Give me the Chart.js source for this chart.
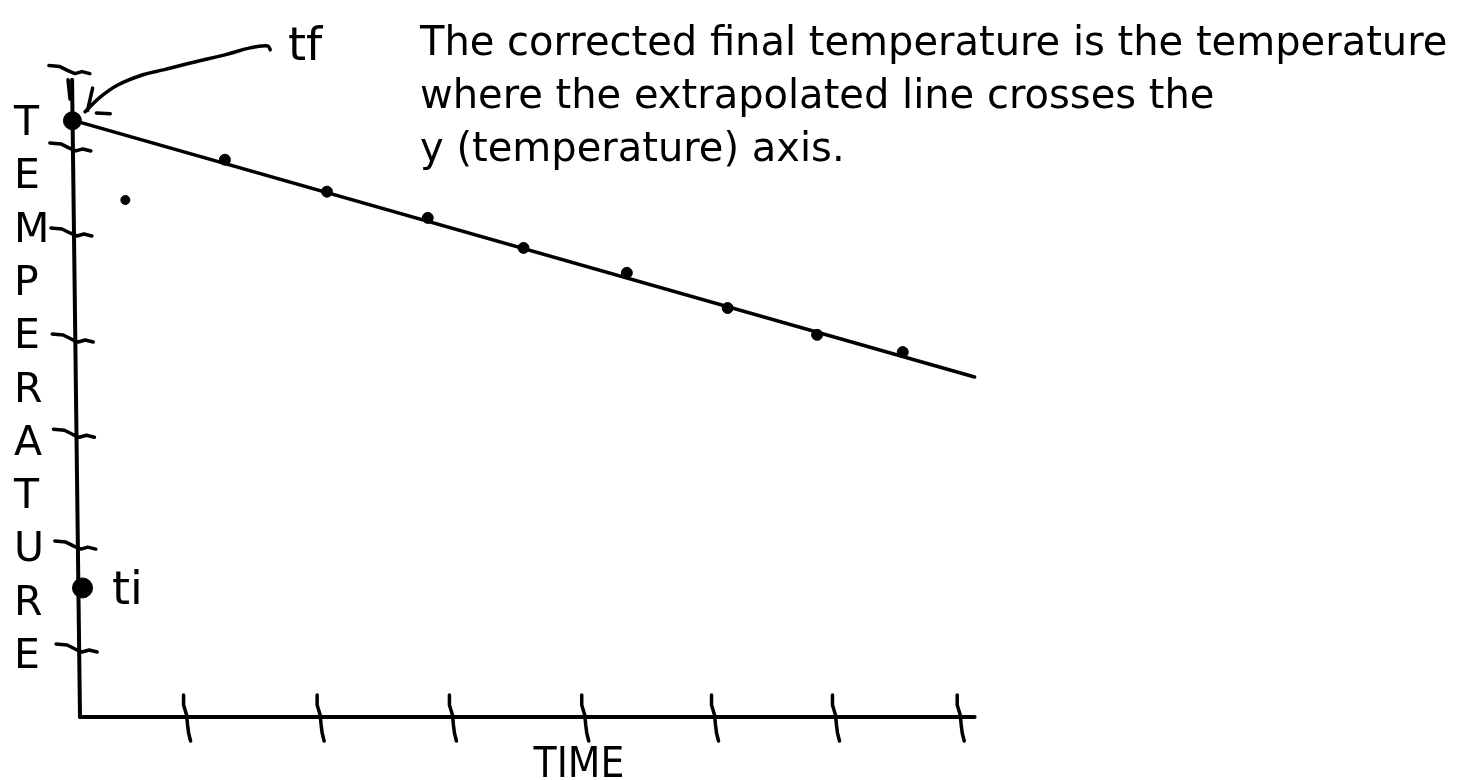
<!DOCTYPE html>
<html>
<head>
<meta charset="utf-8">
<script src="https://cdn.jsdelivr.net/npm/chart.js@4.4.1/dist/chart.umd.min.js"></script>
<style>
  html, body { margin: 0; padding: 0; background: #ffffff; }
  #wrap { width: 1476px; height: 780px; }
</style>
</head>
<body>
<div id="wrap"><canvas id="c" width="1476" height="780"></canvas></div>
<script>
// ---- data (time units, temperature units) ----
const timeTicks = [0.83, 1.89, 2.94, 3.99, 5.02, 5.98, 6.97];
const tempTicks = [101.3, 89.2, 75.9, 59.3, 44.4, 26.9, 10.8];
const measuredTime = [1.15, 1.96, 2.76, 3.52, 4.34, 5.14, 5.85, 6.53];
const measuredTemp = [87.2, 82.2, 78.1, 73.4, 69.5, 64.0, 59.8, 57.1];
const strayTime = [0.36];
const strayTemp = [80.9];
const fitTime = [-0.06, 7.10];
const fitTemp = [93.4, 53.2];
const tfPoint = { time: -0.06, temp: 93.3 };
const tiPoint = { time: 0.02, temp: 20.2 };
const yAxisTime = [-0.063, 0];
const yAxisTemp = [99.7, 0];
const xAxisTime = [0, 7.10];
const xAxisTemp = [0, 0];
const arrowTime = [0.04, 0.16, 0.30, 0.50, 0.67, 0.91, 1.15, 1.35, 1.49, 1.51];
const arrowTemp = [94.7, 97.0, 98.9, 100.5, 101.3, 102.5, 103.6, 104.7, 105.0, 104.4];
const arrowHead1Time = [0.10, 0.06];
const arrowHead1Temp = [98.4, 94.9];
const arrowHead2Time = [0.13, 0.24];
const arrowHead2Temp = [94.5, 94.4];
const topMarkTime = [-0.095, -0.079];
const topMarkTemp = [99.7, 96.7];
const annotationLines = [
  'The corrected final temperature is the temperature',
  'where the extrapolated line crosses the',
  'y (temperature) axis.'
];
const yLetters = ['T','E','M','P','E','R','A','T','U','R','E'];
const xTitle = 'TIME';
const tfLabel = 'tf';
const tiLabel = 'ti';

const pts = (xs, ys) => xs.map((x, i) => ({ x: x, y: ys[i] }));
const lineDS = (xs, ys, w, tension) => ({
  type: 'line', data: pts(xs, ys), borderColor: '#000', borderWidth: w,
  pointRadius: 0, tension: tension || 0, fill: false, clip: false,
  borderCapStyle: 'round', borderJoinStyle: 'round'
});

const sketchPlugin = {
  id: 'sketch',
  afterDatasetsDraw(chart) {
    const ctx = chart.ctx;
    const xs = chart.scales.x, ys = chart.scales.y;
    ctx.save();
    ctx.strokeStyle = '#000';
    ctx.lineWidth = 3.5;
    ctx.lineCap = 'round';
    ctx.lineJoin = 'round';
    // wiggly time ticks
    const xShape = [[-1,-22],[-1,-12],[2,-2],[3,8],[4,16],[6,24]];
    const y0 = ys.getPixelForValue(0);
    timeTicks.forEach(t => {
      const px = xs.getPixelForValue(t);
      ctx.beginPath();
      xShape.forEach((p, i) => { const X = px + p[0], Y = y0 + p[1]; i ? ctx.lineTo(X, Y) : ctx.moveTo(X, Y); });
      ctx.stroke();
    });
    // wiggly temperature ticks
    const yShape = [[-23,-4],[-12,-3],[-4,1],[3,4],[10,2],[18,4]];
    tempTicks.forEach(v => {
      const py = ys.getPixelForValue(v);
      const ax = xs.getPixelForValue(0) - (v / 100) * 8;
      ctx.beginPath();
      yShape.forEach((p, i) => { const X = ax + p[0], Y = py + p[1]; i ? ctx.lineTo(X, Y) : ctx.moveTo(X, Y); });
      ctx.stroke();
    });
    // texts
    ctx.fillStyle = '#000';
    ctx.textBaseline = 'alphabetic';
    ctx.textAlign = 'left';
    ctx.font = '40px "DejaVu Sans"';
    annotationLines.forEach((s, i) => ctx.fillText(s, 420, 55 + i * 53));
    ctx.font = '41px "DejaVu Sans"';
    yLetters.forEach((s, i) => ctx.fillText(s, 14, 135 + i * 53.3));
    ctx.font = '42px "Liberation Sans Narrow", "DejaVu Sans Condensed", sans-serif';
    ctx.textAlign = 'center';
    ctx.fillText(xTitle, xs.getPixelForValue(3.96), 777);
    ctx.textAlign = 'left';
    ctx.font = '46px "DejaVu Sans"';
    ctx.fillText(tfLabel, 288, 60);
    ctx.fillText(tiLabel, 112, 604);
    ctx.restore();
  }
};

new Chart(document.getElementById('c'), {
  type: 'scatter',
  data: {
    datasets: [
      lineDS(yAxisTime, yAxisTemp, 4),
      lineDS(xAxisTime, xAxisTemp, 4),
      lineDS(fitTime, fitTemp, 3.5),
      lineDS(arrowTime, arrowTemp, 3.5, 0.4),
      lineDS(arrowHead1Time, arrowHead1Temp, 3.5),
      lineDS(arrowHead2Time, arrowHead2Temp, 3.5),
      lineDS(topMarkTime, topMarkTemp, 3.5),
      { data: pts(measuredTime, measuredTemp), backgroundColor: '#000', borderColor: '#000', pointRadius: 5.5, clip: false },
      { data: pts(strayTime, strayTemp), backgroundColor: '#000', borderColor: '#000', pointRadius: 4.5, clip: false },
      { data: [{ x: tfPoint.time, y: tfPoint.temp }], backgroundColor: '#000', borderColor: '#000', pointRadius: 9, clip: false },
      { data: [{ x: tiPoint.time, y: tiPoint.temp }], backgroundColor: '#000', borderColor: '#000', pointRadius: 10, clip: false }
    ]
  },
  options: {
    responsive: false,
    devicePixelRatio: 1,
    animation: false,
    layout: { padding: { left: 17, right: 451, top: 14, bottom: 31 } },
    plugins: { legend: { display: false }, tooltip: { enabled: false }, title: { display: false } },
    scales: {
      x: { type: 'linear', display: false, min: -0.5, max: 7.5 },
      y: { type: 'linear', display: false, min: -5, max: 110 }
    }
  },
  plugins: [sketchPlugin]
});
</script>
</body>
</html>
